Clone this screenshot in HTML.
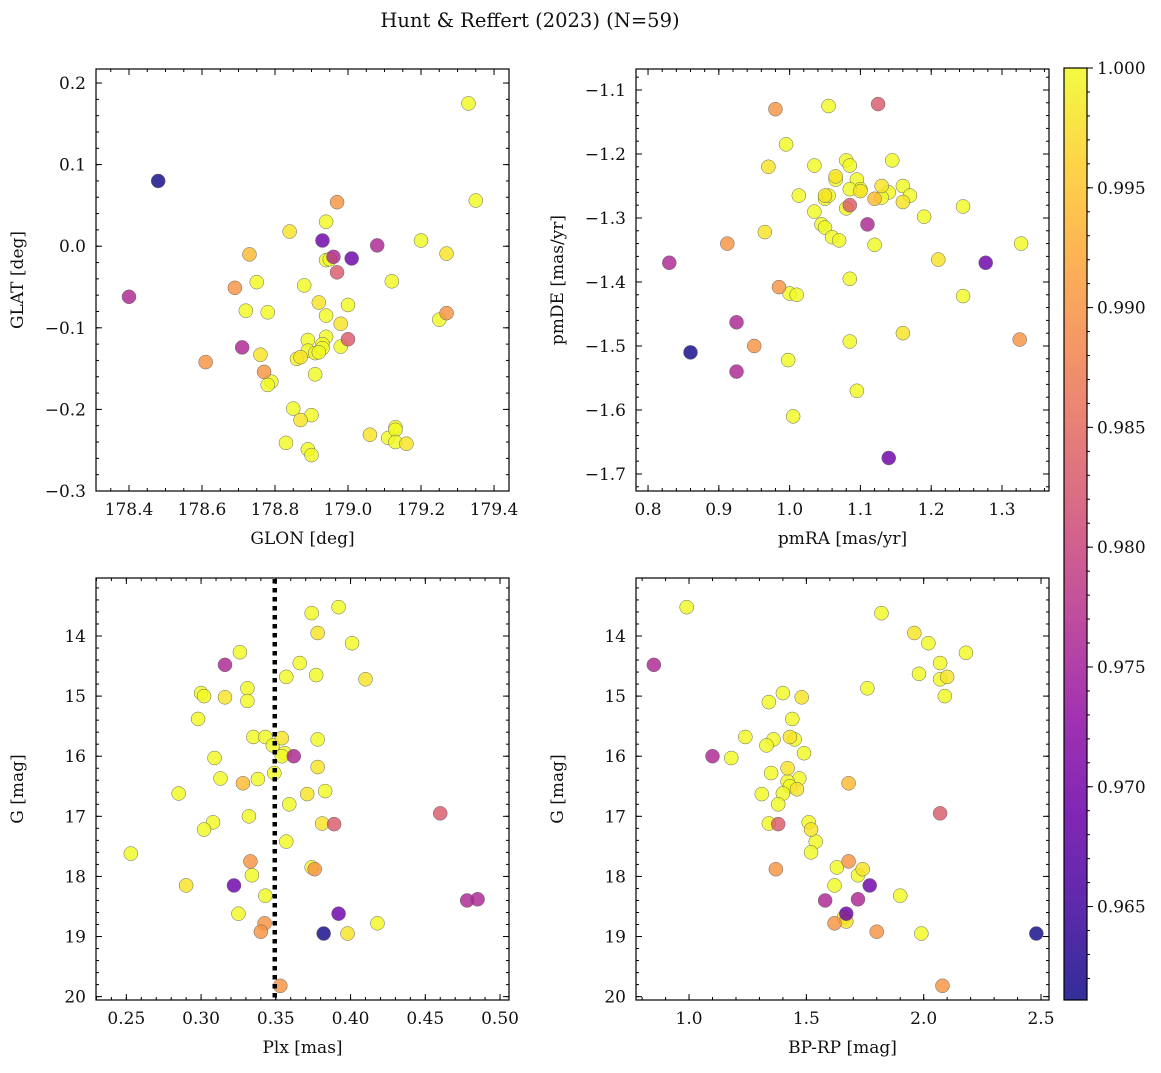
<!DOCTYPE html>
<html><head><meta charset="utf-8">
<style>
body{margin:0;background:#fff;}
svg text{font-family:"DejaVu Serif","Liberation Serif",serif;fill:#111;}
</style></head>
<body>
<svg id="fig" width="1161" height="1068" viewBox="0 0 1161 1068" xmlns="http://www.w3.org/2000/svg">
<text x="530" y="27" font-size="19.5" text-anchor="middle">Hunt &amp; Reffert (2023) (N=59)</text>
</svg>
<script>
// ---- data: colored (lower-probability) members ----
const probC = [0.9615,0.969,0.969,0.976,0.976,0.976,0.976,0.983,0.983,0.990,0.990,0.990,0.990,0.990,0.994];
const glonC = [178.48,178.93,179.01,178.40,179.08,178.71,178.96,178.97,179.00,178.97,178.61,178.69,178.77,179.27,178.73];
const glatC = [0.080,0.007,-0.015,-0.062,0.001,-0.124,-0.013,-0.032,-0.114,0.054,-0.142,-0.051,-0.154,-0.082,-0.010];
const pmraC = [0.86,1.277,1.14,0.83,0.925,0.925,1.11,1.125,1.085,0.98,0.912,0.985,0.95,1.325,1.12];
const pmdeC = [-1.51,-1.37,-1.675,-1.37,-1.463,-1.54,-1.31,-1.122,-1.28,-1.13,-1.34,-1.408,-1.50,-1.49,-1.27];
const plxC  = [0.382,0.392,0.322,0.316,0.362,0.478,0.485,0.46,0.389,0.333,0.3425,0.340,0.353,0.376,0.328];
const gC    = [18.95,18.62,18.15,14.48,16.0,18.4,18.38,16.95,17.13,17.75,18.78,18.92,19.82,17.88,16.45];
const bprpC = [2.48,1.67,1.77,0.85,1.10,1.58,1.72,2.07,1.38,1.68,1.62,1.80,2.08,1.37,1.68];
// ---- data: high-probability members ----
const glonY = [179.33,179.35,178.84,178.94,178.94,178.95,179.20,179.27,178.72,178.78,178.75,178.88,178.92,179.00,179.12,179.25,178.94,178.98,178.94,178.89,178.93,178.89,178.87,178.91,178.86,178.93,178.98,178.76,178.91,178.79,178.78,178.85,178.87,178.90,178.83,178.89,178.90,179.06,179.11,179.13,179.13,179.13,179.16,178.92];
const glatY = [0.175,0.056,0.018,0.030,-0.017,-0.016,0.007,-0.009,-0.079,-0.081,-0.044,-0.048,-0.069,-0.072,-0.043,-0.090,-0.085,-0.095,-0.111,-0.115,-0.120,-0.128,-0.136,-0.131,-0.138,-0.125,-0.123,-0.133,-0.157,-0.166,-0.170,-0.199,-0.213,-0.207,-0.241,-0.249,-0.256,-0.231,-0.235,-0.222,-0.225,-0.240,-0.242,-0.130];
const pmraY = [1.055,0.995,0.97,1.035,1.08,1.085,1.145,1.065,1.065,1.095,1.10,1.085,1.13,1.16,1.14,1.17,1.13,1.05,1.05,1.013,1.035,1.08,1.16,1.19,1.245,1.045,1.05,0.965,1.06,1.07,1.12,1.327,1.21,1.085,1.0,1.01,1.245,1.16,1.085,0.998,1.095,1.005,1.10,1.055];
const pmdeY = [-1.125,-1.185,-1.22,-1.218,-1.21,-1.218,-1.21,-1.235,-1.24,-1.24,-1.255,-1.255,-1.25,-1.25,-1.26,-1.265,-1.268,-1.265,-1.27,-1.265,-1.29,-1.285,-1.275,-1.298,-1.282,-1.31,-1.315,-1.322,-1.33,-1.335,-1.342,-1.34,-1.365,-1.395,-1.418,-1.42,-1.422,-1.48,-1.493,-1.522,-1.57,-1.61,-1.258,-1.265];
const plxY = [0.392,0.374,0.378,0.401,0.326,0.366,0.377,0.410,0.357,0.331,0.300,0.302,0.316,0.331,0.298,0.335,0.343,0.354,0.378,0.348,0.356,0.309,0.378,0.349,0.313,0.338,0.383,0.371,0.285,0.359,0.332,0.308,0.381,0.302,0.357,0.374,0.253,0.290,0.334,0.343,0.325,0.418,0.398,0.354];
const gY   = [13.52,13.62,13.95,14.12,14.27,14.45,14.65,14.72,14.68,14.87,14.95,15.0,15.02,15.08,15.38,15.68,15.68,15.70,15.72,15.82,15.95,16.03,16.18,16.28,16.37,16.38,16.58,16.63,16.62,16.80,17.0,17.1,17.12,17.22,17.42,17.85,17.62,18.15,17.98,18.32,18.62,18.78,18.95,16.0];
const gY4  = [13.52,13.62,13.95,14.12,14.28,14.45,14.72,14.68,14.63,15.0,14.87,14.95,15.02,15.1,15.38,15.68,15.72,15.68,15.72,16.03,15.82,15.95,16.2,16.28,16.37,16.42,16.5,16.55,16.63,16.62,16.8,17.1,17.22,17.42,17.6,17.12,17.85,17.88,17.98,18.15,18.32,18.68,18.75,18.95];
const bprpY= [0.99,1.82,1.96,2.02,2.18,2.07,2.07,2.10,1.98,2.09,1.76,1.40,1.48,1.34,1.44,1.24,1.36,1.43,1.45,1.18,1.33,1.49,1.42,1.35,1.47,1.42,1.43,1.46,1.31,1.40,1.38,1.51,1.52,1.54,1.52,1.34,1.63,1.74,1.72,1.62,1.90,1.66,1.67,1.99];
const probY = glonY.map((_,i)=> i%5===2 ? 0.998 : 1.0);
const cbTicks = [0.965,0.970,0.975,0.980,0.985,0.990,0.995,1.000];
const plxCut = 0.3493;

const NS="http://www.w3.org/2000/svg";
const svg=document.getElementById('fig');
function mk(tag,attrs,parent){const e=document.createElementNS(NS,tag);for(const k in attrs)e.setAttribute(k,attrs[k]);(parent||svg).appendChild(e);return e;}
const stops=[[0,13,8,135],[0.1,65,4,157],[0.2,106,0,168],[0.3,143,13,164],[0.4,177,42,144],[0.5,204,71,120],[0.6,225,100,98],[0.7,242,132,75],[0.8,252,166,54],[0.9,252,206,37],[1,240,249,33]];
const cmin=0.9611,cmax=1.0;
function plasma(v){let t=(v-cmin)/(cmax-cmin);t=Math.max(0,Math.min(1,t));for(let i=1;i<stops.length;i++){if(t<=stops[i][0]){const a=stops[i-1],b=stops[i];const f=(t-a[0])/(b[0]-a[0]);return `rgb(${Math.round(a[1]+f*(b[1]-a[1]))},${Math.round(a[2]+f*(b[2]-a[2]))},${Math.round(a[3]+f*(b[3]-a[3]))})`;}}return 'rgb(240,249,33)';}
function fmt(v,d){return (v<0?'−':'')+Math.abs(v).toFixed(d);}

function panel(cfg){
  const {name,x0,x1,y0,y1,xd,yd,xMaj,xMin,yMaj,yMin,xDec,yDec,xlabel,ylabel,invertY}=cfg;
  const g=mk('g',{});
  
  
  const sx=v=>x0+(v-xd[0])/(xd[1]-xd[0])*(x1-x0);
  const sy=invertY? v=>y0+(v-yd[0])/(yd[1]-yd[0])*(y1-y0) : v=>y1-(v-yd[0])/(yd[1]-yd[0])*(y1-y0);
  const eps=1e-9;
  const tg=mk('g',{stroke:'#000','stroke-width':1},g);
  const drawX=(step,len,lab)=>{const s=Math.ceil((xd[0]-eps)/step);for(let k=s;k*step<=xd[1]+eps;k++){const v=k*step;const px=sx(v);mk('line',{x1:px,x2:px,y1:y1,y2:y1-len},tg);mk('line',{x1:px,x2:px,y1:y0,y2:y0+len},tg);
    if(lab){const t=mk('text',{x:px,y:y1+24,'font-size':17,'text-anchor':'middle',stroke:'none'},g);t.textContent=fmt(v,xDec);}}};
  const drawY=(step,len,lab)=>{const s=Math.ceil((Math.min(...yd)-eps)/step);for(let k=s;k*step<=Math.max(...yd)+eps;k++){const v=k*step;const py=sy(v);mk('line',{x1:x0,x2:x0+len,y1:py,y2:py},tg);mk('line',{x1:x1,x2:x1-len,y1:py,y2:py},tg);
    if(lab){const t=mk('text',{x:x0-10,y:py+6,'font-size':17,'text-anchor':'end',stroke:'none'},g);t.textContent=fmt(v,yDec);}}};
  drawX(xMin,3,false);drawX(xMaj,6,true);drawY(yMin,3,false);drawY(yMaj,6,true);
  const xl=mk('text',{x:(x0+x1)/2,y:y1+53,'font-size':17,'text-anchor':'middle'},g);xl.textContent=xlabel;
  
  const yl=mk('text',{x:0,y:0,'font-size':17,'text-anchor':'middle',transform:`translate(${x0-73},${(y0+y1)/2}) rotate(-90)`},g);yl.textContent=ylabel;
  
  const frame=mk('rect',{x:x0,y:y0,width:x1-x0,height:y1-y0,fill:'none',stroke:'#000','stroke-width':1.2},g);
  
  return {g,sx,sy};
}
function scatter(p,xs,ys,ps,name){
  const order=xs.map((_,i)=>i).sort((a,b)=>ps[b]-ps[a]);
  for(const i of order){const c=mk('circle',{cx:p.sx(xs[i]),cy:p.sy(ys[i]),r:7,fill:plasma(ps[i]),'fill-opacity':0.82,stroke:'#666','stroke-width':0.5},p.g);
    
    }
}
const allP=probY.concat(probC);
const p1=panel({name:'glon-glat-panel',x0:96,x1:509,y0:69,y1:491,xd:[178.3096,179.441],yd:[-0.3,0.2172],xMaj:0.2,xMin:0.05,yMaj:0.1,yMin:0.02,xDec:1,yDec:1,xlabel:'GLON [deg]',ylabel:'GLAT [deg]'});
scatter(p1,glonY.concat(glonC),glatY.concat(glatC),allP,'star-point');
const p2=panel({name:'proper-motion-panel',x0:636,x1:1049,y0:69,y1:491,xd:[0.783,1.3664],yd:[-1.7266,-1.0672],xMaj:0.1,xMin:0.02,yMaj:0.1,yMin:0.02,xDec:1,yDec:1,xlabel:'pmRA [mas/yr]',ylabel:'pmDE [mas/yr]'});
scatter(p2,pmraY.concat(pmraC),pmdeY.concat(pmdeC),allP,'star-point');
const p3=panel({name:'parallax-mag-panel',x0:96,x1:509,y0:578,y1:1000,xd:[0.2297,0.506],yd:[13.035,20.056],xMaj:0.05,xMin:0.01,yMaj:1,yMin:0.2,xDec:2,yDec:0,xlabel:'Plx [mas]',ylabel:'G [mag]',invertY:true});
scatter(p3,plxY.concat(plxC),gY.concat(gC),allP,'star-point');
const cut=mk('line',{x1:p3.sx(plxCut),x2:p3.sx(plxCut),y1:579,y2:999,stroke:'#000','stroke-width':4.5,'stroke-dasharray':'4.5,4.5'},p3.g);


const p4=panel({name:'cmd-panel',x0:636,x1:1049,y0:578,y1:1000,xd:[0.774,2.534],yd:[13.035,20.056],xMaj:0.5,xMin:0.1,yMaj:1,yMin:0.2,xDec:1,yDec:0,xlabel:'BP-RP [mag]',ylabel:'G [mag]',invertY:true});
scatter(p4,bprpY.concat(bprpC),gY4.concat(gC),allP,'star-point');

// colorbar
const cb=mk('g',{});


const cbx=1064,cbw=23,cby0=68,cby1=1000;
for(let y=cby0;y<cby1;y++){const v=cmax-(y-cby0+0.5)/(cby1-cby0)*(cmax-cmin);mk('rect',{x:cbx,y:y,width:cbw,height:1.2,fill:plasma(v),'fill-opacity':0.82},cb);}
const cys=v=>cby0+(cmax-v)/(cmax-cmin)*(cby1-cby0);
for(let k=Math.ceil(cmin/0.001);k*0.001<=cmax+1e-9;k++){const py=cys(k*0.001);mk('line',{x1:cbx+cbw,x2:cbx+cbw+3,y1:py,y2:py,stroke:'#000'},cb);}
for(const v of cbTicks){const py=cys(v);mk('line',{x1:cbx+cbw,x2:cbx+cbw+6,y1:py,y2:py,stroke:'#000'},cb);
  const t=mk('text',{x:cbx+cbw+10,y:py+6,'font-size':17},cb);t.textContent=v.toFixed(3);
  
  }
mk('rect',{x:cbx,y:cby0,width:cbw,height:cby1-cby0,fill:'none',stroke:'#000','stroke-width':1.2},cb);
</script>
</body></html>
